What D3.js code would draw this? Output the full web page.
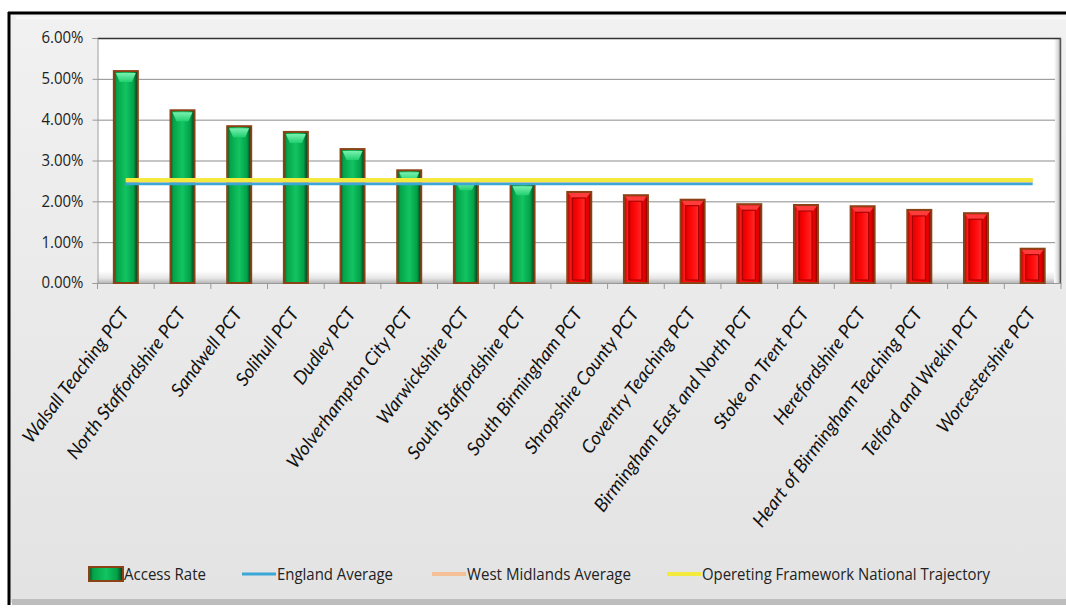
<!DOCTYPE html>
<html><head><meta charset="utf-8">
<script src="https://cdn.jsdelivr.net/npm/d3@7/dist/d3.min.js"></script>
<style>body{margin:0;background:#fff;}svg{display:block;}</style>
</head><body>
<svg id="c" width="1066" height="608"></svg>
<script>
const categories = ["Walsall Teaching PCT","North Staffordshire PCT","Sandwell PCT","Solihull PCT","Dudley PCT","Wolverhampton City PCT","Warwickshire PCT","South Staffordshire PCT","South Birmingham PCT","Shropshire County PCT","Coventry Teaching PCT","Birmingham East and North PCT","Stoke on Trent PCT","Herefordshire PCT","Heart of Birmingham Teaching PCT","Telford and Wrekin PCT","Worcestershire PCT"];
const accessRate = [0.0519,0.0423,0.0384,0.0370,0.0328,0.0276,0.0254,0.0242,0.0223,0.0215,0.0204,0.0193,0.0191,0.0188,0.0179,0.0171,0.0084];
const aboveAverage = [true,true,true,true,true,true,true,true,false,false,false,false,false,false,false,false,false];
const englandAverage = 0.0243;
const westMidlandsAverage = 0.0251;
const nationalTrajectory = 0.0252;
const yTicks = [0,0.01,0.02,0.03,0.04,0.05,0.06];
const legendLabels = ["Access Rate","England Average","West Midlands Average","Opereting Framework National Trajectory"];

const svg = d3.select("#c");
const defs = svg.append("defs");
function lg(id, stops, vertical){
  const g = defs.append("linearGradient").attr("id", id)
    .attr("x1",0).attr("y1",0).attr("x2",vertical?0:1).attr("y2",vertical?1:0);
  stops.forEach(s=>g.append("stop").attr("offset",s[0]).attr("stop-color",s[1]));
}
lg("bg",[[0,"#f1f1f1"],[1,"#e3e3e3"]],true);
lg("green",[[0,"#0b4f24"],[0.12,"#03a448"],[0.5,"#12c462"],[0.82,"#02a148"],[1,"#04321a"]]);
lg("greenTop",[[0,"#7af0b0"],[1,"#20d070"]],true);
lg("red",[[0,"#b00000"],[0.15,"#ff1a1a"],[0.6,"#ff0000"],[0.88,"#e00000"],[1,"#600000"]]);
lg("redIn",[[0,"#e00000"],[0.5,"#ff0a0a"],[1,"#ff2a2a"]]);
lg("floor",[[0,"#ffffff"],[0.6,"#e6e6e6"],[1,"#b8b8b8"]],true);
lg("wall",[[0,"#ffffff"],[0.6,"#d8d8d8"],[1,"#8a8a8a"]]);

// chart background + frame
svg.append("rect").attr("x",0).attr("y",0).attr("width",1066).attr("height",608).attr("fill","#ffffff");
svg.append("rect").attr("x",9).attr("y",13).attr("width",1070).attr("height",590).attr("fill","url(#bg)");
svg.append("rect").attr("x",12).attr("y",599).attr("width",1060).attr("height",6).attr("fill","#bdbdbd");
svg.append("line").attr("x1",8).attr("x2",1066).attr("y1",13).attr("y2",13).attr("stroke","#000").attr("stroke-width",3);
svg.append("line").attr("x1",9).attr("x2",9).attr("y1",12).attr("y2",605).attr("stroke","#000").attr("stroke-width",3);
svg.append("line").attr("x1",16).attr("x2",1066).attr("y1",18).attr("y2",18).attr("stroke","#fafafa").attr("stroke-width",3);

const L = 97.5, R = 1061, T = 38, B = 283;
const x = d3.scaleBand().domain(categories).range([L,R]).padding(0);
const y = d3.scaleLinear().domain([0,0.06]).range([B,T]);

// plot area
svg.append("rect").attr("x",L).attr("y",T).attr("width",R-L).attr("height",B-T).attr("fill","#fff");
svg.append("rect").attr("x",L).attr("y",B-12).attr("width",R-L).attr("height",12).attr("fill","url(#floor)");
svg.append("rect").attr("x",R-7).attr("y",T).attr("width",7).attr("height",B-T).attr("fill","url(#wall)");

// gridlines
svg.append("g").selectAll("line").data(yTicks.slice(1,-1)).join("line")
  .attr("x1",L).attr("x2",R-6).attr("y1",d=>y(d)+0.5).attr("y2",d=>y(d)+0.5)
  .attr("stroke","#8c8c8c").attr("stroke-width",1);
svg.append("line").attr("x1",L).attr("x2",R).attr("y1",T+0.5).attr("y2",T+0.5).attr("stroke","#333").attr("stroke-width",1.5);
svg.append("line").attr("x1",R-0.5).attr("x2",R-0.5).attr("y1",T).attr("y2",B).attr("stroke","#555").attr("stroke-width",1.5);

// y axis
const yAxis = svg.append("g").attr("transform",`translate(${L},0)`)
  .call(d3.axisLeft(y).tickValues(yTicks).tickFormat(d3.format(".2%")).tickSize(5));
yAxis.select(".domain").attr("stroke","#999");
yAxis.selectAll(".tick line").attr("stroke","#999");
yAxis.selectAll("text").attr("font-family","'Open Sans', sans-serif").attr("font-size",15.5)
  .attr("fill","#222").attr("x",-14).attr("textLength",42).attr("lengthAdjust","spacingAndGlyphs");

// x axis
const xAxis = svg.append("g").attr("transform",`translate(0,${B})`)
  .call(d3.axisBottom(x).tickSize(0).tickFormat(""));
xAxis.select(".domain").attr("stroke","#999");
svg.append("g").selectAll("line").data(categories.concat([null])).join("line")
  .attr("x1",(d,i)=>L + i*x.bandwidth()).attr("x2",(d,i)=>L + i*x.bandwidth())
  .attr("y1",B).attr("y2",B+6).attr("stroke","#999");

svg.append("g").selectAll("text").data(categories).join("text")
  .attr("transform",d=>`translate(${x(d)+x.bandwidth()/2+4},${B+31}) rotate(-53)`)
  .attr("text-anchor","end").attr("font-family","Lato, sans-serif").attr("font-style","italic")
  .attr("font-size",18.5).attr("fill","#111").text(d=>d);

// bars
const bw = 24;
const bars = svg.append("g").selectAll("g").data(categories).join("g");
bars.each(function(d,i){
  const g = d3.select(this);
  const x0 = x(d)+x.bandwidth()/2-bw/2, y0 = y(accessRate[i]), h = B - y0;
  if(aboveAverage[i]){
    g.append("rect").attr("x",x0).attr("y",y0).attr("width",bw).attr("height",h).attr("fill","url(#green)");
    g.append("path").attr("d",`M${x0+2},${y0+2}L${x0+bw-2},${y0+2}L${x0+bw-6},${y0+11}L${x0+6},${y0+11}Z`).attr("fill","url(#greenTop)");
  } else {
    g.append("rect").attr("x",x0).attr("y",y0).attr("width",bw).attr("height",h).attr("fill","url(#red)");
    g.append("path").attr("d",`M${x0+1},${y0+1}L${x0+bw-1},${y0+1}L${x0+bw-5},${y0+6}L${x0+5},${y0+6}Z`).attr("fill","#ff3b3b");
    g.append("rect").attr("x",x0+5).attr("y",y0+6).attr("width",bw-11).attr("height",Math.max(0,h-9)).attr("fill","url(#redIn)").attr("stroke","#9a0000").attr("stroke-width",1);
  }
  g.append("rect").attr("x",x0).attr("y",y0).attr("width",bw).attr("height",h).attr("fill","none").attr("stroke","#8a4216").attr("stroke-width",2);
});

// lines
const x1 = x(categories[0])+x.bandwidth()/2, x2 = x(categories[categories.length-1])+x.bandwidth()/2;
svg.append("line").attr("x1",x1).attr("x2",x2).attr("y1",y(englandAverage)).attr("y2",y(englandAverage)).attr("stroke","#3aa7d6").attr("stroke-width",3);
svg.append("line").attr("x1",x1).attr("x2",x2).attr("y1",y(westMidlandsAverage)).attr("y2",y(westMidlandsAverage)).attr("stroke","#f5bf98").attr("stroke-width",4);
svg.append("line").attr("x1",x1).attr("x2",x2).attr("y1",y(nationalTrajectory)).attr("y2",y(nationalTrajectory)).attr("stroke","#f4ea3e").attr("stroke-width",4);

// legend
const lgY = 574;
const leg = svg.append("g");
leg.append("rect").attr("x",89).attr("y",lgY-7).attr("width",34).attr("height",14).attr("fill","url(#green)").attr("stroke","#8a4216").attr("stroke-width",2);
const legLines = [[242,276,"#3aa7d6",3],[432,466,"#f5bf98",4],[667,701,"#f4ea3e",4]];
legLines.forEach(l=>leg.append("line").attr("x1",l[0]).attr("x2",l[1]).attr("y1",lgY).attr("y2",lgY).attr("stroke",l[2]).attr("stroke-width",l[3]));
const legText = [[124,82],[277,116],[467,164],[702,288]];
legendLabels.forEach((t,i)=>leg.append("text").attr("x",legText[i][0]).attr("y",lgY+6)
  .attr("font-family","'Open Sans', sans-serif").attr("font-size",16).attr("fill","#222")
  .attr("textLength",legText[i][1]).attr("lengthAdjust","spacingAndGlyphs").text(t));
</script>
</body></html>
